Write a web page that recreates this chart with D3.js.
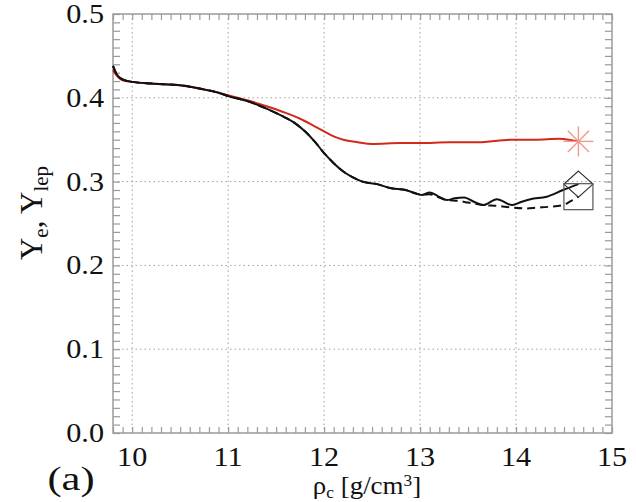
<!DOCTYPE html>
<html><head><meta charset="utf-8">
<script src="https://cdn.jsdelivr.net/npm/d3@7"></script>
<style>
html,body{margin:0;padding:0;background:#fff;}
svg{display:block;}
</style></head>
<body>
<svg id="chart" width="636" height="502"></svg>
<script>
// ---- data ----
const redX = [9.80,9.85,9.90,10.0,10.2,10.5,10.7,10.9,11.0,11.2,11.4,11.6,11.75,11.9,12.0,12.1,12.2,12.35,12.5,12.8,13.0,13.3,13.6,13.96,14.2,14.45,14.55,14.65];
const redY = [0.433,0.425,0.421,0.419,0.417,0.415,0.411,0.406,0.403,0.397,0.390,0.382,0.375,0.366,0.360,0.354,0.350,0.347,0.345,0.346,0.346,0.347,0.347,0.350,0.350,0.351,0.350,0.348];

const blackX = [9.80,9.83,9.87,9.95,10.0,10.2,10.5,10.7,10.9,11.0,11.2,11.4,11.55,11.68,11.8,11.9,12.0,12.1,12.2,12.3,12.4,12.55,12.7,12.85,12.95,13.02,13.1,13.18,13.28,13.36,13.46,13.56,13.66,13.8,13.96,14.06,14.15,14.32,14.49,14.65];
const blackY = [0.438,0.430,0.424,0.420,0.419,0.417,0.415,0.411,0.406,0.402,0.396,0.387,0.379,0.371,0.360,0.348,0.334,0.322,0.312,0.305,0.300,0.297,0.292,0.290,0.286,0.284,0.287,0.283,0.278,0.280,0.281,0.276,0.272,0.279,0.272,0.276,0.279,0.282,0.290,0.297];

const dashX = [9.80,9.83,9.87,9.95,10.0,10.2,10.5,10.7,10.9,11.0,11.2,11.4,11.55,11.68,11.8,11.9,12.0,12.1,12.2,12.3,12.4,12.55,12.7,12.85,12.95,13.02,13.1,13.18,13.28,13.4,13.5,13.66,13.8,13.96,14.1,14.22,14.35,14.49,14.56,14.65];
const dashY = [0.438,0.430,0.424,0.420,0.419,0.417,0.415,0.411,0.406,0.402,0.396,0.387,0.379,0.371,0.360,0.348,0.334,0.322,0.312,0.305,0.300,0.297,0.292,0.290,0.286,0.284,0.285,0.282,0.278,0.277,0.275,0.272,0.271,0.269,0.268,0.269,0.270,0.272,0.276,0.282];

const asteriskPt = [14.65, 0.348];
const diamondPt = [14.65, 0.297];
const squarePt = [14.65, 0.282];

const xTicks = [10,11,12,13,14,15];
const yTicks = [0.0,0.1,0.2,0.3,0.4,0.5];
const xTickLabels = ["10","11","12","13","14","15"];
const yTickLabels = ["0.0","0.1","0.2","0.3","0.4","0.5"];

// ---- layout ----
const FONT = "'Liberation Serif','Times New Roman',Times,serif";
const L=113, R=612, T=14, B=433;
const svg = d3.select("#chart");
const x = d3.scaleLinear().domain([9.8,15]).range([L,R]);
const y = d3.scaleLinear().domain([0,0.5]).range([B,T]);

const gridCol="#a0a0a0", axCol="#9a9a9a";

// grid
svg.append("g").selectAll("line").data(xTicks.filter(v=>v<15)).join("line")
  .attr("x1",d=>x(d)).attr("x2",d=>x(d)).attr("y1",T).attr("y2",B)
  .attr("stroke",gridCol).attr("stroke-width",1).attr("stroke-dasharray","1.5,3");
svg.append("g").selectAll("line").data(yTicks.filter(v=>v>0&&v<0.5)).join("line")
  .attr("x1",L).attr("x2",R).attr("y1",d=>y(d)).attr("y2",d=>y(d))
  .attr("stroke",gridCol).attr("stroke-width",1).attr("stroke-dasharray","1.5,3");

// minor ticks via d3 axes
const xMinor = d3.range(98,151).map(v=>v/10);
const yMinor = d3.range(0,51).map(v=>v/100);
function styleAxis(g){ g.select(".domain").remove(); g.selectAll("line").attr("stroke",axCol).attr("stroke-width",1.2); g.selectAll("text").remove(); }
svg.append("g").attr("transform",`translate(0,${B})`).call(d3.axisBottom(x).tickValues(xMinor).tickSize(-6).tickFormat("")).call(styleAxis);
svg.append("g").attr("transform",`translate(0,${T})`).call(d3.axisTop(x).tickValues(xMinor).tickSize(-6).tickFormat("")).call(styleAxis);
svg.append("g").attr("transform",`translate(${L},0)`).call(d3.axisLeft(y).tickValues(yMinor).tickSize(-7).tickFormat("")).call(styleAxis);
svg.append("g").attr("transform",`translate(${R},0)`).call(d3.axisRight(y).tickValues(yMinor).tickSize(-7).tickFormat("")).call(styleAxis);

// frame
svg.append("rect").attr("x",L).attr("y",T).attr("width",R-L).attr("height",B-T)
  .attr("fill","none").attr("stroke",axCol).attr("stroke-width",1.5);

// lines
const line = d3.line().x(d=>x(d[0])).y(d=>y(d[1])).curve(d3.curveMonotoneX);
svg.append("path").datum(d3.zip(redX,redY)).attr("d",line)
  .attr("fill","none").attr("stroke","#d12a1b").attr("stroke-width",2);
svg.append("path").datum(d3.zip(dashX,dashY)).attr("d",line)
  .attr("fill","none").attr("stroke","#111").attr("stroke-width",2).attr("stroke-dasharray","8,5");
svg.append("path").datum(d3.zip(blackX,blackY)).attr("d",line)
  .attr("fill","none").attr("stroke","#111").attr("stroke-width",2);

// markers
const ax = x(asteriskPt[0]), ay = y(asteriskPt[1]);
const ar = 15;
svg.append("g").selectAll("line").data([0,45,90,135]).join("line")
  .attr("x1",d=>ax - ar*Math.cos(d*Math.PI/180)).attr("y1",d=>ay - ar*Math.sin(d*Math.PI/180))
  .attr("x2",d=>ax + ar*Math.cos(d*Math.PI/180)).attr("y2",d=>ay + ar*Math.sin(d*Math.PI/180))
  .attr("stroke","#ee9a8c").attr("stroke-width",1.4);
const dx = x(diamondPt[0]), dy = y(diamondPt[1]);
svg.append("path").attr("d",`M${dx},${dy-13}L${dx+14.5},${dy}L${dx},${dy+13}L${dx-14.5},${dy}Z`)
  .attr("fill","none").attr("stroke","#333").attr("stroke-width",1.2);
const sx = x(squarePt[0]), sy = y(squarePt[1]);
svg.append("rect").attr("x",sx-14.5).attr("y",sy-13).attr("width",29).attr("height",26)
  .attr("fill","none").attr("stroke","#555").attr("stroke-width",1.2);

// tick labels
const fs = 27, sxf = 1.12;
svg.append("g").selectAll("text").data(xTicks).join("text")
  .attr("transform",(d)=>`translate(${x(d)},${466}) scale(${sxf},1)`)
  .attr("text-anchor","middle").attr("font-family",FONT).attr("fill","#111")
  .attr("font-size",fs).text((d,i)=>xTickLabels[i]);
svg.append("g").selectAll("text").data(yTicks).join("text")
  .attr("transform",(d)=>`translate(${104},${y(d)+9}) scale(${sxf},1)`)
  .attr("text-anchor","end").attr("font-family",FONT).attr("fill","#111")
  .attr("font-size",fs).text((d,i)=>yTickLabels[i]);

// axis titles
const xt = svg.append("text").attr("transform",`translate(367,494) scale(1.08,1)`)
  .attr("text-anchor","middle").attr("font-family",FONT).attr("fill","#111").attr("font-size",25);
xt.append("tspan").text("ρ");
xt.append("tspan").attr("font-size",16).attr("dy",4).text("c");
xt.append("tspan").attr("dy",-4).text(" [g/cm");
xt.append("tspan").attr("font-size",16).attr("dy",-8).text("3");
xt.append("tspan").attr("dy",8).text("]");

const yt = svg.append("text").attr("transform",`translate(42,213) rotate(-90)`)
  .attr("text-anchor","middle").attr("font-family",FONT).attr("fill","#111").attr("font-size",31);
yt.append("tspan").text("Y");
yt.append("tspan").attr("font-size",21).attr("dy",6).text("e");
yt.append("tspan").attr("dy",-6).text(", Y");
yt.append("tspan").attr("font-size",21).attr("dy",6).text("lep");

svg.append("text").attr("transform",`translate(71,490) scale(1.25,1)`)
  .attr("text-anchor","middle").attr("font-family",FONT).attr("fill","#111")
  .attr("font-size",34).text("(a)");
</script>
</body></html>
